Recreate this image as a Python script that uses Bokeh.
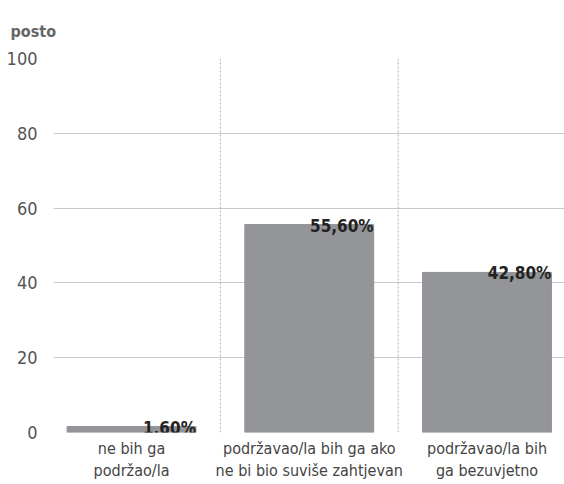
from bokeh.plotting import figure
from bokeh.models import Range1d, FixedTicker, Span, ColumnDataSource
from bokeh.core.properties import value
from bokeh.embed import file_html
from bokeh.resources import INLINE

categories = ["ne bih ga\npodržao/la",
              "podržavao/la bih ga ako\nne bi bio suviše zahtjevan",
              "podržavao/la bih\nga bezuvjetno"]
values = [1.6, 55.6, 42.8]
value_labels = ["1,60%", "55,60%", "42,80%"]
y_ticks = [0, 20, 40, 60, 80, 100]
y_title = "posto"

FONT = "DejaVu Sans Condensed"
BAR_W = 0.725

xs = list(range(len(categories)))
src = ColumnDataSource(dict(x=xs, top=values, lx=[x + BAR_W / 2 for x in xs], lab=value_labels))

x_rng = Range1d(-0.439, 2.436)
y_rng = Range1d(0, 100)
p = figure(frame_width=511, frame_height=374, output_backend="svg", toolbar_location=None,
           x_range=x_rng, y_range=y_rng,
           min_border_left=53, min_border_right=0, min_border_top=58, min_border_bottom=52)
p.outline_line_color = None
p.background_fill_color = "white"

p.vbar(x="x", top="top", bottom=0, width=BAR_W, source=src, color="#939598")
p.text(x="lx", y="top", text="lab", source=src, text_align="right", text_baseline="alphabetic",
       text_font=value(FONT), text_font_style="bold", text_font_size="17px", text_color="#222222",
       y_offset=1)

for i in range(len(categories) - 1):
    p.add_layout(Span(location=i + 0.5, dimension="height", line_color="#b0b0b0",
                      line_dash="2 2", line_width=1))

p.xgrid.visible = False
p.ygrid.grid_line_color = "#c8c8c8"
p.ygrid.ticker = FixedTicker(ticks=y_ticks)

p.yaxis.ticker = FixedTicker(ticks=y_ticks)
p.yaxis.axis_line_color = None
p.yaxis.major_tick_line_color = None
p.yaxis.minor_tick_line_color = None
p.yaxis.major_label_text_font = FONT
p.yaxis.major_label_text_font_size = "18px"
p.yaxis.major_label_text_color = "#555555"
p.yaxis.major_label_standoff = 10

p.xaxis.ticker = FixedTicker(ticks=xs)
p.xaxis.major_label_overrides = {i: c for i, c in enumerate(categories)}
p.xaxis.axis_line_color = None
p.xaxis.major_tick_line_color = None
p.xaxis.minor_tick_line_color = None
p.xaxis.major_label_text_font = FONT
p.xaxis.major_label_text_font_size = "16px"
p.xaxis.major_label_text_color = "#444444"
p.xaxis.major_label_standoff = 0

p.title.text = y_title
p.title.text_font = FONT
p.title.text_font_style = "bold"
p.title.text_font_size = "16px"
p.title.text_color = "#666666"
p.title.align = "left"
p.title.offset = -43
p.title.standoff = 36

open("out.html", "w").write(file_html(p, INLINE))
